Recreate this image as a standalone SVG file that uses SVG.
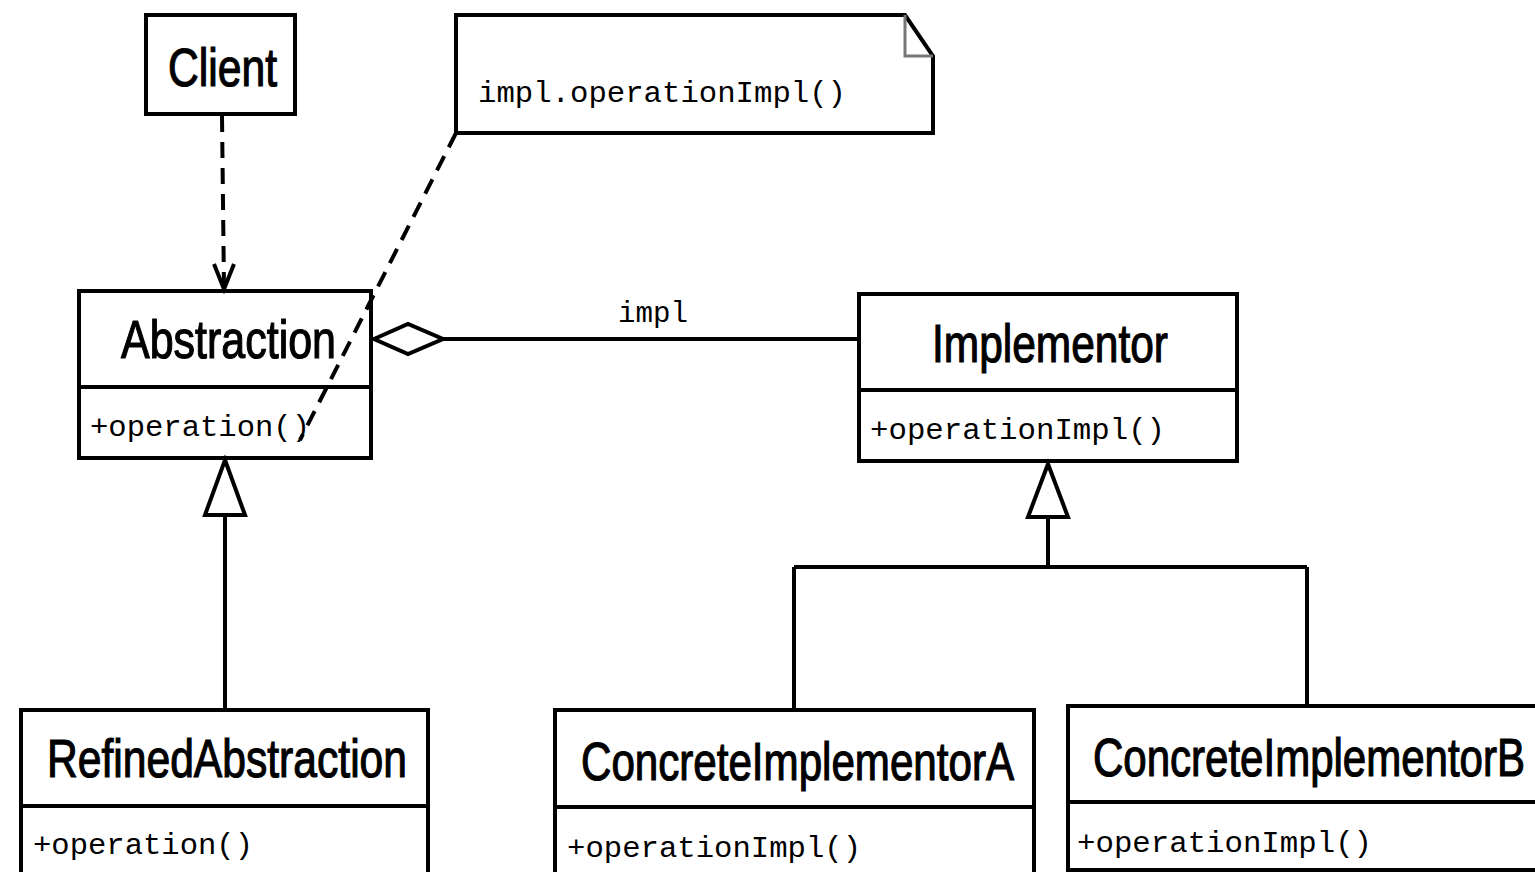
<svg xmlns="http://www.w3.org/2000/svg" width="1535" height="872" viewBox="0 0 1535 872">
<style>
.box{fill:#fff;stroke:#000;stroke-width:4}
.div{stroke:#000;stroke-width:4}
.title{font-family:"Liberation Sans",Arial,sans-serif;font-size:54px;fill:#000;stroke:#000;stroke-width:1.2}
.op{font-family:"Liberation Mono","Courier New",monospace;font-size:30px;fill:#000}
.line{fill:none;stroke:#000;stroke-width:4}
.dash{fill:none;stroke:#000;stroke-width:4;stroke-dasharray:16 10}
</style>
<rect width="1535" height="872" fill="#fff"/>
<g id="client">
<rect class="box" x="146" y="15" width="149" height="99"/>
<text class="title" x="168" y="86" textLength="109" lengthAdjust="spacingAndGlyphs">Client</text>
</g>
<g id="note">
<path class="box" d="M456,15 L905,15 L933,56 L933,133 L456,133 Z"/>
<path d="M905,15 L905,56 L933,56" fill="none" stroke="#777" stroke-width="3"/>
<text class="op" x="478" y="102" textLength="368" lengthAdjust="spacingAndGlyphs">impl.operationImpl()</text>
</g>
<g id="abstraction">
<rect class="box" x="79" y="291" width="292" height="167"/>
<line class="div" x1="79" y1="387" x2="371" y2="387"/>
<text class="title" x="121" y="358" textLength="215" lengthAdjust="spacingAndGlyphs">Abstraction</text>
<text class="op" x="90" y="436" textLength="220" lengthAdjust="spacingAndGlyphs">+operation()</text>
</g>
<g id="implementor">
<rect class="box" x="859" y="294" width="378" height="167"/>
<line class="div" x1="859" y1="390" x2="1237" y2="390"/>
<text class="title" x="932" y="362" textLength="236" lengthAdjust="spacingAndGlyphs">Implementor</text>
<text class="op" x="870" y="439" textLength="295" lengthAdjust="spacingAndGlyphs">+operationImpl()</text>
</g>
<g id="refinedAbstraction">
<rect class="box" x="21" y="710" width="407" height="170"/>
<line class="div" x1="21" y1="806" x2="428" y2="806"/>
<text class="title" x="47" y="777" textLength="360" lengthAdjust="spacingAndGlyphs">RefinedAbstraction</text>
<text class="op" x="33" y="854" textLength="220" lengthAdjust="spacingAndGlyphs">+operation()</text>
</g>
<g id="concreteImplementorA">
<rect class="box" x="555" y="710" width="479" height="170"/>
<line class="div" x1="555" y1="807" x2="1034" y2="807"/>
<text class="title" x="581" y="780" textLength="433" lengthAdjust="spacingAndGlyphs">ConcreteImplementorA</text>
<text class="op" x="567" y="857" textLength="294" lengthAdjust="spacingAndGlyphs">+operationImpl()</text>
</g>
<g id="concreteImplementorB">
<rect class="box" x="1068" y="706" width="480" height="164"/>
<line class="div" x1="1068" y1="802" x2="1548" y2="802"/>
<text class="title" x="1093" y="776" textLength="432" lengthAdjust="spacingAndGlyphs">ConcreteImplementorB</text>
<text class="op" x="1077" y="852" textLength="295" lengthAdjust="spacingAndGlyphs">+operationImpl()</text>
</g>
<g id="connectors">
<path class="dash" d="M222,116 L224,288"/>
<path class="line" d="M214,264 L224,289 L234,264"/>
<path class="dash" d="M456,133 L300,440"/>
<path class="line" d="M443,339 L858,339"/>
<path class="box" d="M374,339 L408,324 L443,339 L408,354 Z"/>
<text class="op" x="618" y="322" textLength="70" lengthAdjust="spacingAndGlyphs">impl</text>
<path class="line" d="M225,515 L225,708"/>
<path class="box" d="M225,460 L245,515 L205,515 Z"/>
<path class="line" d="M1048,517 L1048,567 M794,567 L1307,567 M794,567 L794,708 M1307,567 L1307,704"/>
<path class="box" d="M1048,464 L1068,517 L1028,517 Z"/>
</g>
</svg>
